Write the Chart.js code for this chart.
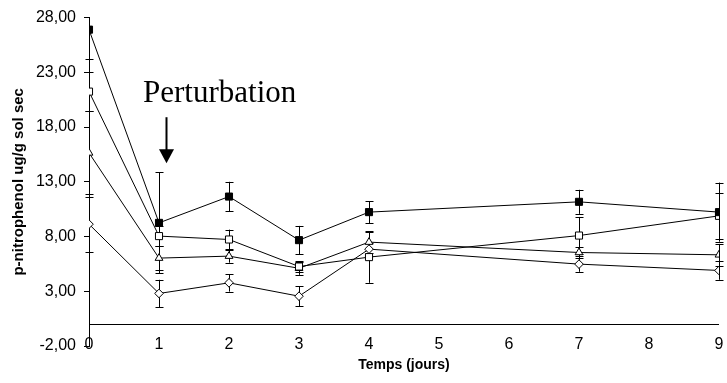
<!DOCTYPE html>
<html>
<head>
<meta charset="utf-8">
<script src="https://cdn.jsdelivr.net/npm/chart.js@4/dist/chart.umd.min.js"></script>
<style>
  html, body { margin: 0; padding: 0; background: #fff; }
  #wrap { width: 727px; height: 383px; }
</style>
</head>
<body>
<div id="wrap"><canvas id="c" width="727" height="383"></canvas></div>
<script>
(function () {
    'use strict';

    // jours de prélèvement
    var days = [0, 1, 2, 3, 4, 7, 9];
    // moyennes par traitement
    var serieA = [26.9, 9.25, 11.65, 7.67, 10.23, 11.17, 10.23];
    var serieB = [21.24, 8.04, 7.73, 5.26, 6.12, 8.09, 9.89];
    var serieC = [15.64, 6.03, 6.21, 5.1, 7.49, 6.54, 6.33];
    var serieD = [9.13, 2.8, 3.77, 2.55, 6.85, 5.48, 4.9];
    // écarts-types
    var errA = [2.7, 4.6, 1.35, 1.3, 1.0, 1.1, 2.7];
    var errB = [1.76, 0.9, 0.9, 0.5, 2.35, 1.7, 2.1];
    var errC = [3.8, 1.1, 0.6, 0.6, 0.95, 0.5, 1.0];
    var errD = [2.5, 1.25, 0.8, 0.9, 0.6, 0.7, 0.85];

    var yTicks = [-2, 3, 8, 13, 18, 23, 28];
    var xTicks = [0, 1, 2, 3, 4, 5, 6, 7, 8, 9];

    var pts = function (vals) {
        return days.map(function (d, i) { return { x: d, y: vals[i] }; });
    };

    var mk = function (vals, errs, style, fill, r) {
        return {
            data: pts(vals),
            errs: errs,
            showLine: true,
            borderColor: '#000',
            borderWidth: 1,
            pointStyle: style,
            pointRadius: r,
            pointHoverRadius: r,
            pointBackgroundColor: fill,
            pointBorderColor: '#000',
            pointBorderWidth: 1
        };
    };

    var errorBars = {
        id: 'errorBars',
        beforeDatasetsDraw: function (chart) {
            var ctx = chart.ctx, xs = chart.scales.x, ys = chart.scales.y, a = chart.chartArea;
            ctx.save();
            ctx.beginPath();
            ctx.rect(a.left - 10, a.top, a.right - a.left + 20, a.bottom - a.top);
            ctx.clip();
            ctx.strokeStyle = '#000';
            ctx.lineWidth = 1;
            chart.data.datasets.forEach(function (ds) {
                ds.data.forEach(function (p, i) {
                    var e = ds.errs[i];
                    var x = Math.round(xs.getPixelForValue(p.x)) + 0.5;
                    var y1 = ys.getPixelForValue(p.y + e), y2 = ys.getPixelForValue(p.y - e);
                    ctx.beginPath();
                    ctx.moveTo(x, y1); ctx.lineTo(x, y2);
                    ctx.moveTo(x - 4, Math.round(y1) + 0.5); ctx.lineTo(x + 4, Math.round(y1) + 0.5);
                    ctx.moveTo(x - 4, Math.round(y2) + 0.5); ctx.lineTo(x + 4, Math.round(y2) + 0.5);
                    ctx.stroke();
                });
            });
            ctx.restore();

            // axe des x à y = 0
            var y0 = Math.round(ys.getPixelForValue(0)) + 0.5;
            ctx.save();
            ctx.strokeStyle = '#000';
            ctx.lineWidth = 1;
            ctx.beginPath();
            ctx.moveTo(a.left, y0); ctx.lineTo(a.right, y0);
            ctx.stroke();
            ctx.restore();
        },
        afterDraw: function (chart) {
            var ctx = chart.ctx, xs = chart.scales.x, ys = chart.scales.y;
            ctx.save();
            ctx.fillStyle = '#000';
            ctx.font = '31px "Liberation Serif", "Times New Roman", serif';
            ctx.textBaseline = 'middle';
            ctx.fillText('Perturbation', 143, ys.getPixelForValue(21.0));
            var ax = Math.round(xs.getPixelForValue(1.1)) + 0.5;
            var top = ys.getPixelForValue(18.9), tip = ys.getPixelForValue(14.7);
            ctx.strokeStyle = '#000';
            ctx.lineWidth = 2;
            ctx.beginPath();
            ctx.moveTo(ax, top); ctx.lineTo(ax, tip - 10);
            ctx.stroke();
            ctx.beginPath();
            ctx.moveTo(ax - 7.5, tip - 14); ctx.lineTo(ax + 7.5, tip - 14); ctx.lineTo(ax, tip);
            ctx.closePath();
            ctx.fill();
            ctx.restore();
        }
    };

    new Chart(document.getElementById('c'), {
        type: 'scatter',
        data: {
            datasets: [
                mk(serieA, errA, 'rect', '#000', 5),
                mk(serieB, errB, 'rect', '#fff', 5),
                mk(serieC, errC, 'triangle', '#fff', 4.5),
                mk(serieD, errD, 'rectRot', '#fff', 4.3)
            ]
        },
        options: {
            responsive: false,
            animation: false,
            layout: { padding: { top: 16, right: 8, left: 0, bottom: 5 } },
            plugins: { legend: { display: false }, tooltip: { enabled: false } },
            scales: {
                x: {
                    type: 'linear',
                    min: 0, max: 9,
                    afterBuildTicks: function (s) { s.ticks = xTicks.map(function (v) { return { value: v }; }); },
                    afterFit: function (s) { s.height = 32; },
                    border: { display: false },
                    grid: { display: false, drawTicks: false },
                    ticks: { color: '#000', mirror: true, padding: -8.5, maxRotation: 0, font: { family: '"Liberation Sans", Arial, sans-serif', size: 16 } },
                    title: { display: true, text: 'Temps (jours)', color: '#000', padding: { top: 4 }, font: { family: '"Liberation Sans", Arial, sans-serif', size: 14, weight: 'bold' } }
                },
                y: {
                    min: -2, max: 28,
                    afterBuildTicks: function (s) { s.ticks = yTicks.map(function (v) { return { value: v }; }); },
                    afterFit: function (s) { s.width = 89; },
                    border: { display: true, color: '#000', width: 1 },
                    grid: { drawOnChartArea: false, drawTicks: true, tickLength: 5, color: '#000' },
                    ticks: {
                        color: '#000', padding: 8,
                        font: { family: '"Liberation Sans", Arial, sans-serif', size: 16 },
                        callback: function (v) { return v.toFixed(2).replace('.', ','); }
                    },
                    title: { display: true, text: 'p-nitrophenol ug/g sol sec', color: '#000', padding: { top: 10, bottom: 0 }, font: { family: '"Liberation Sans", Arial, sans-serif', size: 15, weight: 'bold' } }
                }
            }
        },
        plugins: [errorBars]
    });
})();
</script>
</body>
</html>
